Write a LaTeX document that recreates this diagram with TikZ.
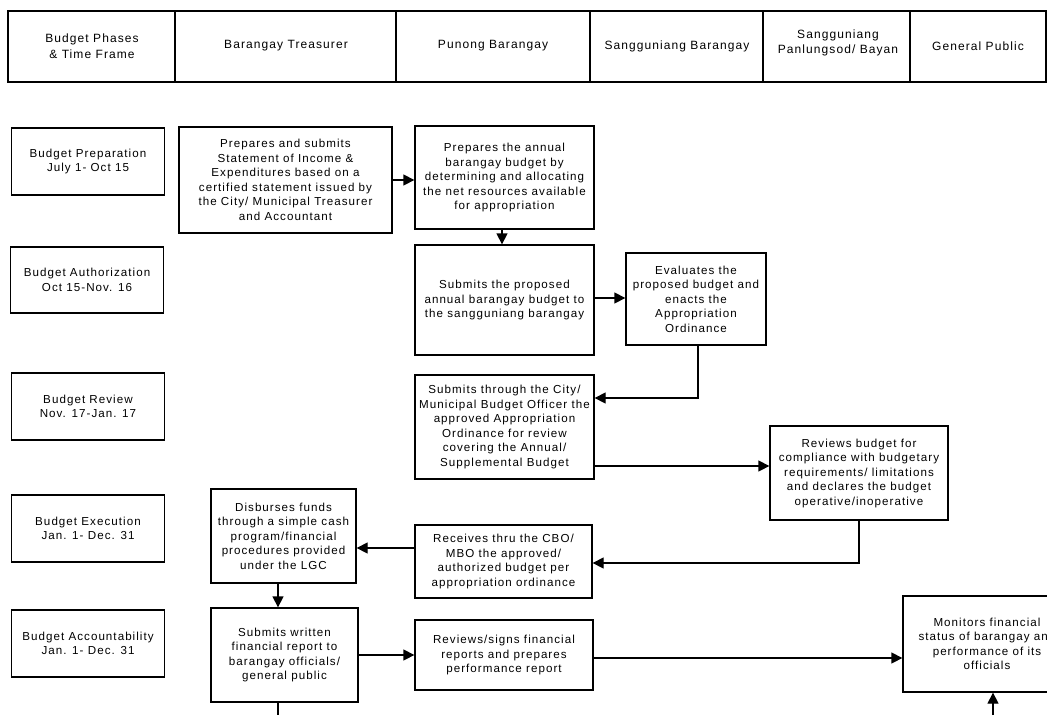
\documentclass[tikz,border=0pt]{standalone}
\usepackage{fontspec}
\setmainfont[LetterSpace=9]{Liberation Sans}
\usetikzlibrary{arrows.meta}
\begin{document}
\begin{tikzpicture}[x=1pt,y=-1pt,
  box/.style={draw, line width=1.3pt, align=center, inner sep=0pt,
    font=\fontsize{11.6}{14.5}\selectfont},
  hdr/.style={align=center, font=\fontsize{12}{15.5}\selectfont},
  conn/.style={line width=1.3pt},
  arr/.style={line width=1.3pt, -{Triangle[length=11pt,width=11pt]}}]
\useasboundingbox (0,0) rectangle (1047,715);
\clip (0,0) rectangle (1047,715);
% header table
\draw[line width=1.3pt] (8,11) rectangle (1046,82);
\foreach \xx in {175,396,590,763,910} \draw[line width=1.3pt] (\xx,11) -- (\xx,82);
\node[hdr] (h1) at (92,46) {Budget Phases\\\& Time Frame};
\node[hdr] (h2) at (286,46) {Barangay Treasurer};
\node[hdr] (h3) at (493,46) {Punong Barangay};
\node[hdr] (h4) at (677,46) {Sangguniang Barangay};
\node[hdr] (h5) at (838,43) {Sangguniang\\Panlungsod/ Bayan};
\node[hdr] (h6) at (978,46) {General Public};
% phases
\node[box, minimum width=153pt, minimum height=67pt] (ph1) at (88,161.5) {Budget Preparation\\July 1- Oct 15};
\node[box, minimum width=153pt, minimum height=66pt] (ph2) at (87,280) {Budget Authorization\\Oct 15-Nov. 16};
\node[box, minimum width=153pt, minimum height=67pt] (ph3) at (88,406.5) {Budget Review\\Nov. 17-Jan. 17};
\node[box, minimum width=153pt, minimum height=67pt] (ph4) at (88,528.5) {Budget Execution\\Jan. 1- Dec. 31};
\node[box, minimum width=153pt, minimum height=67pt] (ph5) at (88,643.5) {Budget Accountability\\Jan. 1- Dec. 31};
% process boxes
\node[box, minimum width=213pt, minimum height=106pt] (t1) at (285.5,180) {Prepares and submits\\Statement of Income \&\\Expenditures based on a\\certified statement issued by\\the City/ Municipal Treasurer\\and Accountant};
\node[box, minimum width=179pt, minimum height=103pt] (p1) at (504.5,177.5) {Prepares the annual\\barangay budget by\\determining and allocating\\the net resources available\\for appropriation};
\node[box, minimum width=179pt, minimum height=110pt] (p2) at (504.5,300) {Submits the proposed\\annual barangay budget to\\the sangguniang barangay};
\node[box, minimum width=140pt, minimum height=92pt] (s1) at (696,299) {Evaluates the\\proposed budget and\\enacts the\\Appropriation\\Ordinance};
\node[box, minimum width=179pt, minimum height=104pt] (p3) at (504.5,427) {Submits through the City/\\Municipal Budget Officer the\\approved Appropriation\\Ordinance for review\\covering the Annual/\\Supplemental Budget};
\node[box, minimum width=178pt, minimum height=94pt] (sp) at (859,473) {Reviews budget for\\compliance with budgetary\\requirements/ limitations\\and declares the budget\\operative/inoperative};
\node[box, minimum width=177pt, minimum height=73pt] (p4) at (503.5,561.5) {Receives thru the CBO/\\MBO the approved/\\authorized budget per\\appropriation ordinance};
\node[box, minimum width=145pt, minimum height=94pt] (t2) at (283.5,536) {Disburses funds\\through a simple cash\\program/financial\\procedures provided\\under the LGC};
\node[box, minimum width=147pt, minimum height=94pt] (t3) at (284.5,655) {Submits written\\financial report to\\barangay officials/\\general public};
\node[box, minimum width=178pt, minimum height=70pt] (p5) at (504,655) {Reviews/signs financial\\reports and prepares\\performance report};
\node[box, minimum width=168pt, minimum height=96pt] (gp) at (987,644) {Monitors financial\\status of barangay and\\performance of its\\officials};
% connectors
\coordinate (tend) at (278,715);
\coordinate (gend) at (993,715);
\draw[arr] (t1.east |- 0,180) -- (p1.west |- 0,180);
\draw[arr] (p1.south -| 502,0) -- (p2.north -| 502,0);
\draw[arr] (p2.east |- 0,298) -- (s1.west |- 0,298);
\draw[arr] (s1.south -| 698,0) -- (698,398) -- (p3.east |- 0,398);
\draw[arr] (p3.east |- 0,466) -- (sp.west |- 0,466);
\draw[arr] (sp.south -| 859,0) -- (859,563) -- (p4.east |- 0,563);
\draw[arr] (p4.west |- 0,548) -- (t2.east |- 0,548);
\draw[arr] (t2.south -| 278,0) -- (t3.north -| 278,0);
\draw[conn] (t3.south -| 278,0) -- (tend);
\draw[arr] (t3.east |- 0,655) -- (p5.west |- 0,655);
\draw[arr] (p5.east |- 0,658) -- (gp.west |- 0,658);
\draw[arr] (gend) -- (gp.south -| 993,0);
\end{tikzpicture}
\end{document}
